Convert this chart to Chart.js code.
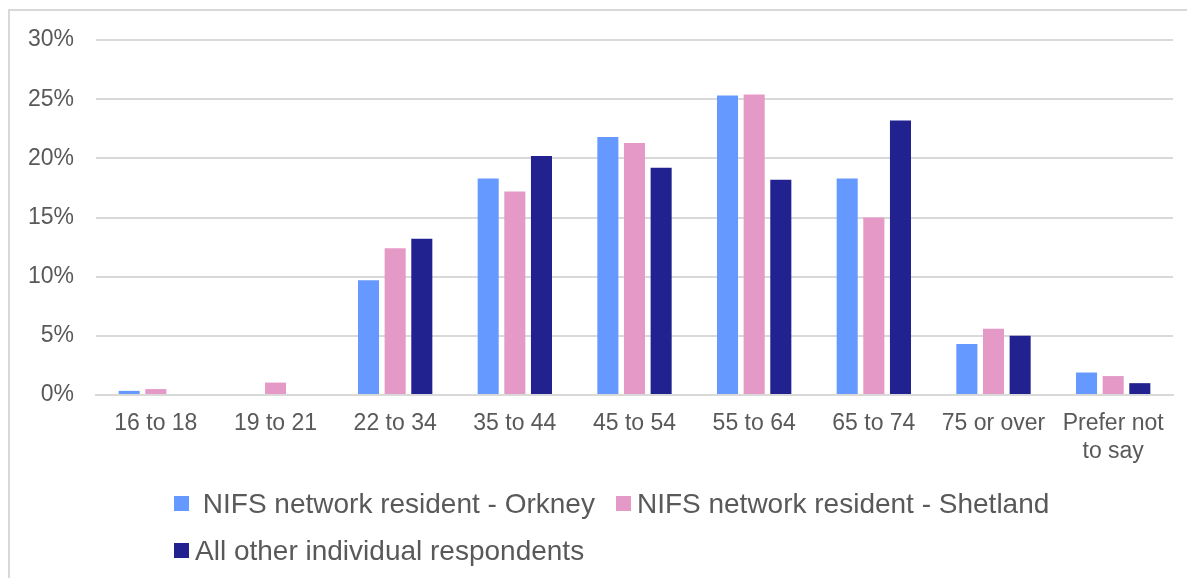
<!DOCTYPE html>
<html>
<head>
<meta charset="utf-8">
<script src="https://cdn.jsdelivr.net/npm/chart.js@4"></script>
<style>
  body { margin: 0; background: #fff; font-family: "Liberation Sans", Arial, sans-serif; }
  #wrap { position: relative; width: 1187px; height: 578px; overflow: hidden; }
  #frame {
    position: absolute; left: 8px; top: 9px; right: -5px; bottom: -5px;
    border-top: 2px solid #d9d9d9; border-left: 2px solid #d9d9d9;
  }
  #chart { position: absolute; left: 0; top: 0; }
  #legend { position: absolute; left: 174px; top: 480px; color: #595959; font-size: 28px; }
  .row { height: 47px; display: flex; align-items: center; white-space: pre; }
  .item { display: flex; align-items: center; margin-right: 21px; }
  .box { width: 15px; height: 15px; margin-right: 6px; }
</style>
</head>
<body>
<div id="wrap">
  <div id="frame"></div>
  <canvas id="chart" width="1187" height="578"></canvas>
  <div id="legend"></div>
</div>
<script>
// age bands
const categories = ["16 to 18", "19 to 21", "22 to 34", "35 to 44", "45 to 54", "55 to 64", "65 to 74", "75 or over", ["Prefer not", "to say"]];

// percentages
const orkney = [0.35, 0, 9.7, 18.3, 21.8, 25.3, 18.3, 4.3, 1.9];
const shetland = [0.5, 1.05, 12.4, 17.2, 21.3, 25.4, 15.0, 5.6, 1.6];
const others = [0, 0, 13.2, 20.2, 19.2, 18.2, 23.2, 5.0, 1.0];

const seriesNames = [" NIFS network resident - Orkney", "NIFS network resident - Shetland", "All other individual respondents"];
const seriesColors = ["#6699ff", "#e499c6", "#21218f"];
const yTicks = [0, 5, 10, 15, 20, 25, 30];

const datasets = [orkney, shetland, others].map((data, i) => ({
  label: seriesNames[i],
  data: data,
  backgroundColor: seriesColors[i],
  borderWidth: 0,
  categoryPercentage: 0.668,
  barPercentage: 0.79,
}));

new Chart(document.getElementById("chart"), {
  type: "bar",
  data: { labels: categories, datasets: datasets },
  options: {
    responsive: false,
    animation: false,
    layout: { padding: { top: 40, right: 14, left: 0, bottom: 0 } },
    plugins: {
      legend: { display: false },
      tooltip: { enabled: false },
    },
    scales: {
      x: {
        grid: { display: false, drawTicks: false },
        border: { color: "#d9d9d9", width: 2 },
        ticks: {
          color: "#595959",
          font: { family: "Liberation Sans", size: 23, lineHeight: 1.25 },
          padding: 14,
          maxRotation: 0,
          autoSkip: false,
        },
        afterFit: (scale) => { scale.height = 578 - 395; },
      },
      y: {
        min: 0,
        max: 30,
        afterBuildTicks: (scale) => { scale.ticks = yTicks.map((v) => ({ value: v })); },
        grid: { color: "#d9d9d9", lineWidth: 2, drawTicks: false },
        border: { display: false },
        ticks: {
          color: "#595959",
          font: { family: "Liberation Sans", size: 23 },
          padding: 22,
          callback: (v) => v + "%",
        },
        afterFit: (scale) => { scale.width = 96; },
      },
    },
  },
});

// legend: two series on the first row, the third below
const legend = document.getElementById("legend");
const rows = [[0, 1], [2]];
rows.forEach((r) => {
  const row = document.createElement("div");
  row.className = "row";
  r.forEach((i) => {
    const item = document.createElement("div");
    item.className = "item";
    item.innerHTML = `<span class="box" style="background:${seriesColors[i]}"></span><span>${seriesNames[i]}</span>`;
    row.appendChild(item);
  });
  legend.appendChild(row);
});
</script>
</body>
</html>
